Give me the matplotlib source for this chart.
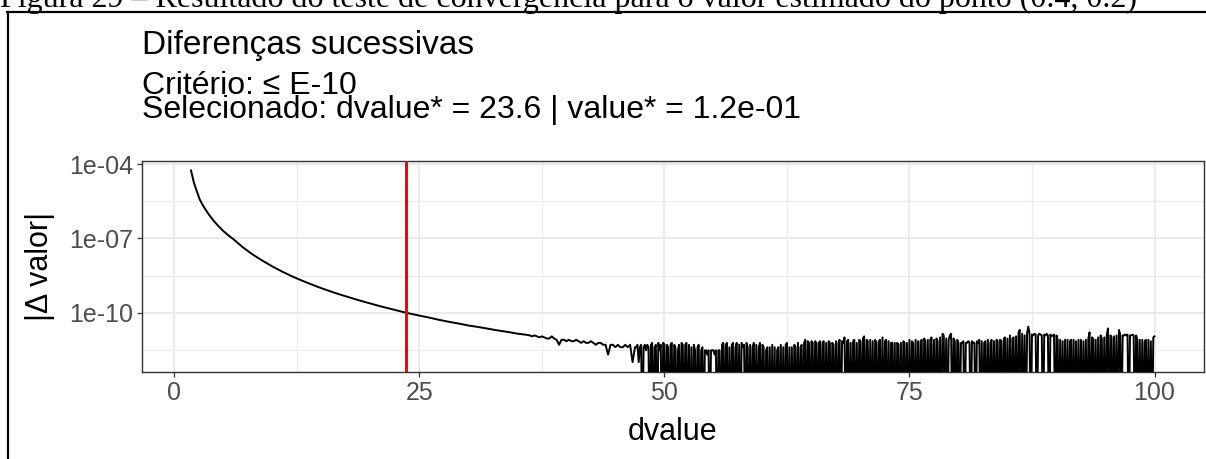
import numpy as np
import matplotlib.pyplot as plt
from matplotlib.lines import Line2D
from matplotlib.ticker import NullFormatter

plt.rc('font', family='Liberation Sans')

# smooth part of the successive differences, log10 |delta valor|
dvalue_smooth = [1.7, 2.0, 2.3, 2.6, 3.0, 3.5, 4.0, 4.5, 5.0, 5.5, 6.0,
                 7.0, 8.0, 9.0, 10.0, 11.0, 12.0, 13.0, 14.0, 15.0, 16.0, 17.0,
                 18.0, 19.0, 20.0, 21.0, 22.0, 23.6, 25.0, 26.0, 27.0, 28.0,
                 29.0, 30.0, 31.0, 32.0, 33.0, 34.0, 35.0, 36.0]
log_delta_smooth = [-4.25, -4.75, -5.10, -5.43, -5.72, -6.02, -6.28, -6.50, -6.70, -6.87, -7.02,
                    -7.36, -7.65, -7.90, -8.13, -8.34, -8.53, -8.70, -8.86, -9.01, -9.15, -9.28,
                    -9.40, -9.52, -9.63, -9.74, -9.84, -10.00, -10.12, -10.20, -10.29, -10.37,
                    -10.44, -10.52, -10.58, -10.65, -10.72, -10.78, -10.85, -10.90]

# slowly decaying jitter, dvalue 36.25 .. 47 every 0.25, |delta| in units of 1e-12
dvalue_jitter = np.arange(36.25, 47.001, 0.25)
delta_jitter_e12 = [
    12, 11, 12, 11, 10, 11, 10, 9, 9, 11, 9, 8, 5, 8, 8, 7,
    8, 7, 7, 8, 7, 6, 7, 6, 6, 7, 6, 5, 6, 6, 5, 5,
    2, 5, 5, 4, 5, 4, 4, 5, 4, 5, 1, 4,
]

# round-off floor, dvalue 47.125 .. 100 every 0.125, units of 1e-12 (0 = no change)
dvalue_floor = np.arange(47.125, 100.001, 0.125)
delta_floor_e12 = [
    4, 5, 1, 4, 5, 0, 4, 5,
    3, 5, 4, 0, 5, 6, 0, 4,
    5, 0, 6, 3, 5, 0, 6, 5,
    0, 5, 4, 0, 5, 6, 0, 5,
    4, 0, 3, 5, 0, 6, 5, 0,
    5, 6, 0, 5, 0, 4, 0, 5,
    3, 0, 4, 5, 0, 3, 4, 0,
    3, 3, 2, 3, 0, 3, 3, 3,
    2, 3, 0, 3, 3, 0, 5, 6,
    0, 5, 6, 0, 4, 0, 5, 6,
    0, 4, 6, 0, 5, 0, 6, 4,
    5, 0, 6, 4, 0, 5, 0, 4,
    6, 0, 5, 0, 4, 6, 0, 5,
    4, 0, 3, 4, 0, 4, 0, 5,
    0, 4, 0, 3, 4, 0, 5, 0,
    4, 0, 5, 6, 0, 4, 0, 4,
    0, 5, 4, 0, 6, 0, 4, 5,
    0, 6, 8, 0, 7, 6, 0, 7,
    6, 0, 7, 6, 0, 6, 7, 0,
    6, 7, 0, 6, 0, 7, 6, 0,
    6, 5, 0, 7, 0, 6, 8, 0,
    7, 6, 10, 0, 7, 8, 0, 6,
    0, 7, 8, 0, 6, 0, 8, 7,
    0, 9, 11, 0, 8, 7, 0, 8,
    0, 7, 0, 8, 6, 0, 7, 8,
    0, 10, 0, 7, 8, 0, 7, 0,
    6, 6, 0, 6, 0, 6, 5, 0,
    6, 0, 7, 6, 0, 6, 0, 8,
    0, 7, 6, 0, 8, 0, 7, 0,
    7, 8, 0, 9, 7, 0, 8, 0,
    8, 10, 0, 8, 0, 9, 7, 0,
    10, 0, 14, 12, 0, 9, 0, 8,
    12, 14, 0, 9, 7, 0, 8, 6,
    0, 6, 6, 7, 0, 6, 6, 7,
    6, 0, 7, 6, 6, 0, 7, 6,
    8, 0, 7, 0, 6, 7, 0, 8,
    0, 6, 8, 0, 7, 0, 8, 7,
    0, 8, 7, 0, 9, 10, 0, 9,
    0, 12, 0, 9, 10, 0, 11, 0,
    15, 20, 0, 14, 0, 12, 0, 15,
    27, 14, 0, 13, 12, 14, 13, 0,
    12, 14, 13, 12, 0, 13, 12, 14,
    12, 0, 13, 11, 12, 13, 0, 12,
    8, 0, 8, 0, 7, 0, 8, 0,
    8, 0, 7, 8, 0, 8, 0, 7,
    0, 8, 0, 8, 0, 7, 0, 8,
    0, 9, 16, 0, 10, 9, 0, 8,
    0, 10, 0, 12, 9, 0, 10, 0,
    12, 23, 0, 12, 10, 0, 11, 0,
    12, 0, 20, 13, 0, 12, 12, 13,
    12, 13, 0, 12, 12, 13, 12, 0,
    12, 8, 0, 8, 0, 8, 0, 7,
    8, 0, 8, 0, 7, 0, 10, 11,
]

selected_dvalue = 23.6
selected_value = '1.2e-01'
criterion = 'E-10'

x_ticks = [0, 25, 50, 75, 100]
x_minor = [12.5, 37.5, 62.5, 87.5]
y_ticks = [1e-4, 1e-7, 1e-10]
y_tick_labels = ['1e-04', '1e-07', '1e-10']
y_minor = [10 ** -5.5, 10 ** -8.5, 10 ** -11.5]

dvalue = np.concatenate([dvalue_smooth, dvalue_jitter, dvalue_floor])
delta = np.concatenate([10.0 ** np.array(log_delta_smooth),
                        np.array(delta_jitter_e12) * 1e-12,
                        np.array(delta_floor_e12) * 1e-12])

y_lo, y_hi = 10 ** -12.413, 10 ** -3.866
# zero differences go to the bottom edge of the log panel
delta_plot = np.where(delta > 0, delta, y_lo * 1e-3)

W, H = 1206, 459
fig = plt.figure(figsize=(W / 100, H / 100), dpi=100)

# page frame and figure caption (cut at the top)
fig.add_artist(Line2D([7.5 / W, 7.5 / W], [0, 1 - 12 / H], color='black', lw=1.6))
fig.add_artist(Line2D([6.5 / W, 1], [1 - 12 / H, 1 - 12 / H], color='black', lw=1.6))
fig.text(0 / W, 1 - 7.5 / H,
         'Figura 29 – Resultado do teste de convergência para o valor estimado do ponto (0.4, 0.2)',
         family='Liberation Serif', fontsize=23, va='baseline', ha='left')

ax = fig.add_axes([142 / W, 1 - 372.3 / H, (1204 - 142) / W, (372.3 - 161) / H])
ax.set_yscale('log')
ax.set_axisbelow(True)

ax.plot(dvalue, delta_plot, color='black', lw=1.4, zorder=3)
ax.axvline(selected_dvalue, color='red', lw=2.2, zorder=4)

ax.set_xlim(-3.3, 105.05)
ax.set_ylim(y_lo, y_hi)
ax.set_xticks(x_ticks)
ax.set_xticks(x_minor, minor=True)
ax.set_yticks(y_ticks, y_tick_labels)
ax.set_yticks(y_minor, minor=True)
ax.yaxis.set_minor_formatter(NullFormatter())

ax.grid(which='major', color='#EBEBEB', lw=1.4)
ax.grid(which='minor', color='#EBEBEB', lw=0.9)
ax.tick_params(which='minor', length=0)
ax.tick_params(which='major', length=3.5, width=0.9, color='#333333',
               labelcolor='#4D4D4D', labelsize=18, pad=3)
for s in ax.spines.values():
    s.set_color('#333333')
    s.set_linewidth(1.0)

x0 = 142 / W
fig.text(x0, 1 - 54 / H, 'Diferenças sucessivas', fontsize=24, va='baseline')
subtitle = (f'Critério: ≤ {criterion}\n'
            f'Selecionado: dvalue* = {selected_dvalue} | value* = {selected_value}')
# baseline of the last subtitle line
fig.text(x0, 1 - 118 / H, subtitle, fontsize=23, va='baseline', linespacing=0.74)

fig.text(673 / W, 1 - 432 / H, 'dvalue', fontsize=22, ha='center', va='center')
fig.text(40 / W, 1 - 266 / H, '|Δ valor|', fontsize=22, rotation=90,
         ha='center', va='center')

fig.savefig('out.png', dpi=100)
